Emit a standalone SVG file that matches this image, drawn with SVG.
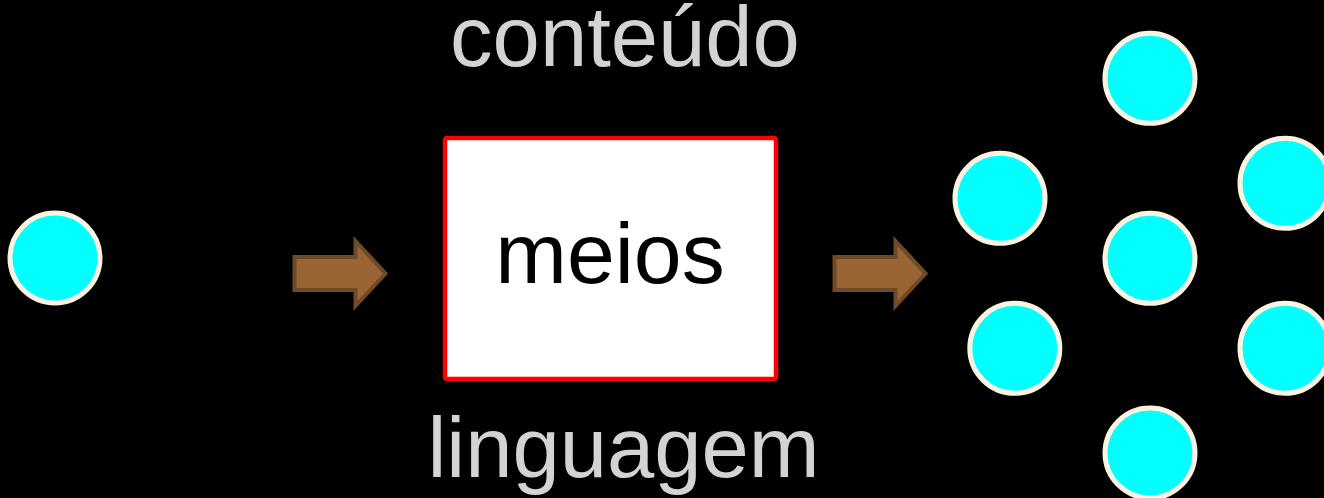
<svg xmlns="http://www.w3.org/2000/svg" width="1324" height="498" viewBox="0 0 1324 498">
  <style>
    .dot { fill: #00ffff; stroke: #fbf3df; stroke-width: 5; }
    .lbl { font-family: "Liberation Sans", Arial, sans-serif; fill: #d3d3d3; font-size: 85px; text-anchor: middle; }
    .arrow { fill: #996535; stroke: #6e4a27; stroke-width: 4; stroke-linejoin: miter; }
  </style>
  <rect x="0" y="0" width="1324" height="498" fill="#000000"/>
  <g id="source"><circle class="dot" cx="55" cy="258" r="45"/></g>
  <g id="conteudo"><text class="lbl" x="625" y="66">conteúdo</text></g>
  <g id="meios">
    <rect x="445" y="138" width="331" height="241" rx="2" fill="#ffffff" stroke="#ff0000" stroke-width="4.5"/>
    <text x="610" y="283" font-family="Liberation Sans, Arial, sans-serif" font-size="86" fill="#000000" text-anchor="middle">meios</text>
  </g>
  <g id="linguagem"><text class="lbl" x="623.5" y="477">linguagem</text></g>
  <g id="receivers">
    <circle id="r1" class="dot" cx="1150" cy="78.3" r="45"/>
    <circle id="r2" class="dot" cx="1000" cy="198.3" r="45"/>
    <circle id="r3" class="dot" cx="1285" cy="183.3" r="45"/>
    <circle id="r4" class="dot" cx="1150" cy="258.3" r="45"/>
    <circle id="r5" class="dot" cx="1014.8" cy="348.3" r="45"/>
    <circle id="r6" class="dot" cx="1285" cy="348.3" r="45"/>
    <circle id="r7" class="dot" cx="1150" cy="453" r="45"/>
  </g>
  <g id="connectors">
    <polygon class="arrow" points="294.5,257 355.5,257 355.5,241 385.5,273.5 355.5,306 355.5,290 294.5,290"/>
    <polygon class="arrow" points="834.5,257 895.5,257 895.5,241 925.5,273.5 895.5,306 895.5,290 834.5,290"/>
  </g>
</svg>
